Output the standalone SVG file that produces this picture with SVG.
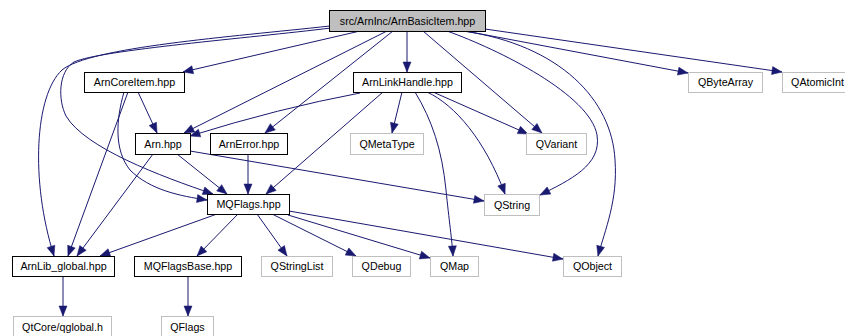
<svg xmlns="http://www.w3.org/2000/svg" width="845" height="336" viewBox="0 0 845 336">
  <style>
    .node rect { fill: #ffffff; stroke: #000000; stroke-width: 1; }
    .node.ext rect { stroke: #bfbfbf; }
    .node.root rect { fill: #bfbfbf; }
    .node text { font-family: "Liberation Sans", Arial, Helvetica, sans-serif; font-size: 10.7px; fill: #000000; text-anchor: middle; }
    .edges path { fill: none; stroke: #191970; stroke-width: 1; marker-end: url(#arrow); }
  </style>
  <defs>
    <marker id="arrow" markerWidth="10" markerHeight="8" refX="10" refY="4" orient="auto" markerUnits="userSpaceOnUse" overflow="visible">
      <path d="M0,0 L10,4 L0,8 Z" fill="#191970" stroke="#191970" stroke-width="0.5"/>
    </marker>
  </defs>
  <rect width="845" height="336" fill="#ffffff"/>

  <!-- include edges -->
  <g id="edges" class="edges">
    <!-- from ArnBasicItem.hpp -->
    <path d="M330,26 C230,37 90,47 62,70 C35,95 30,180 54,256"/>
    <path d="M331,28 C250,38 100,50 74,62 C58,72 58,100 66,116 C85,148 160,176 213,194"/>
    <path d="M360,31 L183,72"/>
    <path d="M387,31 L184,133"/>
    <path d="M393,31 L265,133"/>
    <path d="M407,31 L407,72"/>
    <path d="M423,31 L542,133"/>
    <path d="M447,31 C500,50 590,95 597,135 C602,165 570,180 540,195"/>
    <path d="M463,31 C560,45 612,100 615,160 C618,200 605,230 598,256"/>
    <path d="M465,31 L688,73"/>
    <path d="M485,29 L782,72"/>
    <!-- from ArnCoreItem.hpp -->
    <path d="M138,92 L157,133"/>
    <path d="M128,92 L68,256"/>
    <path d="M124,92 C116,120 114,150 130,170 C150,190 180,196 207,200"/>
    <!-- from ArnLinkHandle.hpp -->
    <path d="M360,93 Q280,108 190,136"/>
    <path d="M383,92 L266,194"/>
    <path d="M402,92 L392,133"/>
    <path d="M415,92 C432,120 442,150 446,190 C449,220 452,240 453,256"/>
    <path d="M427,92 C455,105 485,140 505,194"/>
    <path d="M433,92 L528,134"/>
    <!-- from Arn.hpp -->
    <path d="M153,154 L77,256"/>
    <path d="M177,154 L227,194"/>
    <path d="M190,151 L484,201"/>
    <!-- from ArnError.hpp -->
    <path d="M248,154 L248,194"/>
    <!-- from MQFlags.hpp -->
    <path d="M217,214 L100,256"/>
    <path d="M238,214 L197,256"/>
    <path d="M257,214 L287,256"/>
    <path d="M272,214 L356,256"/>
    <path d="M288,215 L430,258"/>
    <path d="M289,211 L563,259"/>
    <!-- leaf includes -->
    <path d="M63,276 L63,316"/>
    <path d="M188,276 L188,316"/>
  </g>

  <g id="node-ArnBasicItem" class="node root">
    <rect x="329.5" y="10.5" width="156" height="21"/>
    <text x="407.5" y="24.5">src/ArnInc/ArnBasicItem.hpp</text>
  </g>
  <g id="node-ArnCoreItem" class="node">
    <rect x="84.5" y="72.5" width="100" height="20"/>
    <text x="134.5" y="86">ArnCoreItem.hpp</text>
  </g>
  <g id="node-ArnLinkHandle" class="node">
    <rect x="353.5" y="72.5" width="108" height="20"/>
    <text x="407.5" y="86">ArnLinkHandle.hpp</text>
  </g>
  <g id="node-QByteArray" class="node ext">
    <rect x="688.5" y="72.5" width="74" height="20"/>
    <text x="725.5" y="86">QByteArray</text>
  </g>
  <g id="node-QAtomicInt" class="node ext">
    <rect x="782.5" y="72.5" width="70" height="20"/>
    <text x="817.5" y="86">QAtomicInt</text>
  </g>
  <g id="node-Arn" class="node">
    <rect x="135.5" y="133.5" width="55" height="21"/>
    <text x="163" y="147.5">Arn.hpp</text>
  </g>
  <g id="node-ArnError" class="node">
    <rect x="210.5" y="133.5" width="77" height="21"/>
    <text x="249" y="147.5">ArnError.hpp</text>
  </g>
  <g id="node-QMetaType" class="node ext">
    <rect x="350.5" y="133.5" width="73" height="21"/>
    <text x="387" y="147.5">QMetaType</text>
  </g>
  <g id="node-QVariant" class="node ext">
    <rect x="526.5" y="133.5" width="60" height="21"/>
    <text x="556.5" y="147.5">QVariant</text>
  </g>
  <g id="node-MQFlags" class="node">
    <rect x="207.5" y="194.5" width="82" height="20"/>
    <text x="248.5" y="208">MQFlags.hpp</text>
  </g>
  <g id="node-QString" class="node ext">
    <rect x="484.5" y="194.5" width="55" height="21"/>
    <text x="512" y="208.5">QString</text>
  </g>
  <g id="node-ArnLib_global" class="node">
    <rect x="12.5" y="256.5" width="102" height="20"/>
    <text x="63.5" y="270">ArnLib_global.hpp</text>
  </g>
  <g id="node-MQFlagsBase" class="node">
    <rect x="134.5" y="256.5" width="107" height="20"/>
    <text x="188" y="270">MQFlagsBase.hpp</text>
  </g>
  <g id="node-QStringList" class="node ext">
    <rect x="261.5" y="256.5" width="71" height="20"/>
    <text x="297" y="270">QStringList</text>
  </g>
  <g id="node-QDebug" class="node ext">
    <rect x="352.5" y="256.5" width="58" height="20"/>
    <text x="381.5" y="270">QDebug</text>
  </g>
  <g id="node-QMap" class="node ext">
    <rect x="430.5" y="256.5" width="48" height="20"/>
    <text x="454.5" y="270">QMap</text>
  </g>
  <g id="node-QObject" class="node ext">
    <rect x="563.5" y="256.5" width="58" height="20"/>
    <text x="592.5" y="270">QObject</text>
  </g>
  <g id="node-QtCore-qglobal" class="node ext">
    <rect x="13.5" y="316.5" width="98" height="21"/>
    <text x="62.5" y="330.5">QtCore/qglobal.h</text>
  </g>
  <g id="node-QFlags" class="node ext">
    <rect x="161.5" y="316.5" width="52" height="21"/>
    <text x="187.5" y="330.5">QFlags</text>
  </g>
</svg>
